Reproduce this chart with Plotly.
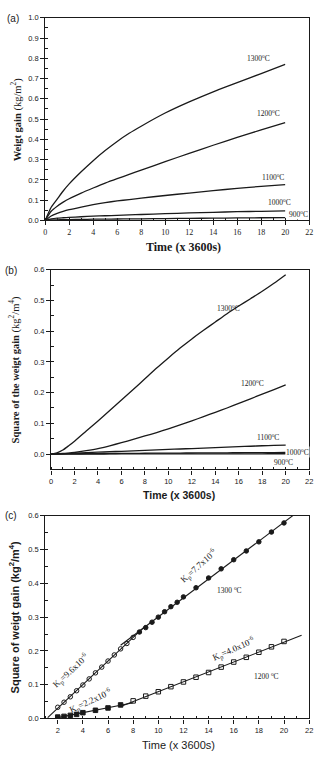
import numpy as np
import plotly.graph_objects as go

W, H = 321, 758

# ---------------- data ----------------
# panel (a): weight gain (kg/m2) vs time (x3600 s)
ta = [0, 0.5, 1, 1.5, 2, 3, 4, 5, 6, 7, 8, 10, 12, 14, 16, 18, 20]
a1300 = [0, 0.065, 0.105, 0.145, 0.18, 0.24, 0.295, 0.345, 0.39, 0.43, 0.465, 0.53, 0.585, 0.635, 0.68, 0.725, 0.77]
a1200 = [0, 0.045, 0.07, 0.09, 0.107, 0.135, 0.16, 0.184, 0.206, 0.227, 0.248, 0.29, 0.331, 0.371, 0.41, 0.447, 0.483]
a1100 = [0, 0.022, 0.035, 0.045, 0.053, 0.066, 0.078, 0.088, 0.096, 0.103, 0.11, 0.123, 0.135, 0.147, 0.158, 0.168, 0.177]
a1000 = [0, 0.007, 0.011, 0.013, 0.015, 0.018, 0.021, 0.023, 0.025, 0.027, 0.029, 0.033, 0.037, 0.04, 0.043, 0.045, 0.047]
a900 = [0, 0.002, 0.003, 0.0035, 0.004, 0.005, 0.006, 0.0065, 0.007, 0.0075, 0.008, 0.009, 0.010, 0.011, 0.012, 0.013, 0.014]

# panel (b): square of weight gain (kg2/m4)
tb = [0, 0.5, 1, 1.5, 2, 3, 4, 5, 6, 7, 8, 9, 10, 11, 12, 13, 14, 15, 16, 17, 18, 19, 20]
b1300 = [0, 0.004, 0.013, 0.027, 0.042, 0.075, 0.108, 0.142, 0.176, 0.21, 0.245, 0.28, 0.313, 0.345,
         0.375, 0.403, 0.43, 0.457, 0.482, 0.506, 0.53, 0.556, 0.584]
b1200 = [0, 0.001, 0.002, 0.003, 0.005, 0.011, 0.018, 0.027, 0.037, 0.048, 0.059, 0.07, 0.082, 0.095,
         0.108, 0.122, 0.136, 0.15, 0.165, 0.18, 0.195, 0.21, 0.225]
b1100 = [0, 0.0005, 0.001, 0.002, 0.003, 0.0045, 0.006, 0.0075, 0.009, 0.0105, 0.012, 0.0135, 0.015,
         0.0165, 0.018, 0.0195, 0.021, 0.0225, 0.024, 0.0255, 0.027, 0.028, 0.029]
b1000 = [0, 0.0002, 0.0004, 0.0006, 0.0008, 0.0011, 0.0014, 0.0017, 0.002, 0.0023, 0.0026, 0.0029,
         0.0031, 0.0033, 0.0035, 0.0037, 0.0039, 0.0041, 0.0043, 0.0045, 0.0047, 0.0049, 0.005]
b900 = [0, 0, 0.0001, 0.0001, 0.0001, 0.0002, 0.0002, 0.0003, 0.0003, 0.0004, 0.0004, 0.0005, 0.0005,
        0.0006, 0.0006, 0.0007, 0.0007, 0.0008, 0.0008, 0.0009, 0.0009, 0.001, 0.001]

# panel (c): measured points and parabolic-rate fits
t1300_open = [2, 2.5, 3, 3.5, 4, 4.5, 5, 5.5, 6, 6.5, 7, 7.5, 8]
y1300_open = [0.033, 0.048, 0.064, 0.082, 0.099, 0.117, 0.135, 0.152, 0.170, 0.188, 0.206, 0.222, 0.240]
t1300_fill = [8.5, 9, 9.5, 10, 10.5, 11, 11.5, 12, 13, 14, 15, 16, 17, 18, 19, 20]
y1300_fill = [0.256, 0.269, 0.285, 0.300, 0.316, 0.331, 0.344, 0.360, 0.387, 0.416, 0.443, 0.470,
              0.496, 0.523, 0.552, 0.579]
t1200_fill = [2, 2.5, 3, 3.5, 4, 5, 6, 7]
y1200_fill = [0.004, 0.006, 0.009, 0.012, 0.017, 0.024, 0.031, 0.040]
t1200_open = [8, 9, 10, 11, 12, 13, 14, 15, 16, 17, 18, 19, 20]
y1200_open = [0.052, 0.066, 0.079, 0.094, 0.108, 0.122, 0.136, 0.152, 0.167, 0.181, 0.196, 0.212, 0.228]
fit_span_9_6 = [1.2, 9.0]
fit_span_7_7 = [7.0, 21.0]
fit_span_2_2 = [1.8, 8.0]
fit_span_4_0 = [7.0, 21.4]
kp_labels = ["K<sub>p</sub>=9.6x10<sup>-6</sup>", "K<sub>p</sub>=7.7x10<sup>-6</sup>",
             "K<sub>p</sub>=2.2x10<sup>-6</sup>", "K<sub>p</sub>=4.0x10<sup>-6</sup>"]

# ---------------- layout helpers ----------------
SERIF = "Liberation Serif, Times New Roman, serif"
SANS = "Liberation Sans, Arial, sans-serif"
INK = "#1a1a1a"


def px_x(p):
    return p / W


def px_y(p):
    return 1 - p / H


fig = go.Figure()

line_style = dict(color=INK, width=1.3, shape="spline", smoothing=0.6)
for ys in [a1300, a1200, a1100, a1000, a900]:
    fig.add_trace(go.Scatter(x=ta, y=ys, mode="lines", line=line_style, xaxis="x", yaxis="y",
                             showlegend=False, hoverinfo="skip"))
for ys in [b1300, b1200, b1100, b1000, b900]:
    fig.add_trace(go.Scatter(x=tb, y=ys, mode="lines", line=line_style, xaxis="x2", yaxis="y2",
                             showlegend=False, hoverinfo="skip"))


def fit_line(ts, ys, span):
    k, b = np.polyfit(ts, ys, 1)
    xs = np.array(span)
    return xs, k * xs + b


for ts, ys, span in [(t1300_open, y1300_open, fit_span_9_6), (t1300_fill, y1300_fill, fit_span_7_7),
                     (t1200_fill, y1200_fill, fit_span_2_2), (t1200_open, y1200_open, fit_span_4_0)]:
    xs, yl = fit_line(ts, ys, span)
    fig.add_trace(go.Scatter(x=xs, y=yl, mode="lines", line=dict(color=INK, width=1.1),
                             xaxis="x3", yaxis="y3", showlegend=False, hoverinfo="skip"))

mk = dict(color=INK, size=4.5, line=dict(color=INK, width=1))
fig.add_trace(go.Scatter(x=t1300_open, y=y1300_open, mode="markers", marker=dict(mk, symbol="circle-open"),
                         xaxis="x3", yaxis="y3", showlegend=False))
fig.add_trace(go.Scatter(x=t1300_fill, y=y1300_fill, mode="markers", marker=dict(mk, symbol="circle"),
                         xaxis="x3", yaxis="y3", showlegend=False))
fig.add_trace(go.Scatter(x=t1200_fill, y=y1200_fill, mode="markers", marker=dict(mk, symbol="square"),
                         xaxis="x3", yaxis="y3", showlegend=False))
fig.add_trace(go.Scatter(x=t1200_open, y=y1200_open, mode="markers", marker=dict(mk, symbol="square-open"),
                         xaxis="x3", yaxis="y3", showlegend=False))


def axis(domain, rng, dtick, mdtick, font, anchor, fmt=None):
    d = dict(domain=domain, range=rng, dtick=dtick, tick0=0, ticks="outside", ticklen=4, tickwidth=1,
             tickcolor=INK, showline=True, linecolor=INK, linewidth=1.2, mirror=True,
             showgrid=False, zeroline=False, tickfont=font, anchor=anchor,
             minor=dict(dtick=mdtick, tick0=0, ticks="inside", ticklen=2.5, tickcolor=INK, showgrid=False))
    if fmt:
        d["tickformat"] = fmt
    return d


tf_sans = dict(family=SANS, size=7.5, color=INK)
tf_serif = dict(family=SERIF, size=8, color=INK)

xa_dom = [px_x(44), px_x(313)]
xb_dom = [px_x(50), px_x(313)]
xc_dom = [px_x(44), px_x(313)]

fig.update_layout(
    width=W, height=H, margin=dict(l=0, r=0, t=0, b=0),
    paper_bgcolor="white", plot_bgcolor="white",
    xaxis=axis(xa_dom, [0, 22], 2, 1, tf_serif, "y"),
    yaxis=axis([px_y(219), px_y(14)], [0, 1.0], 0.1, 0.05, tf_sans, "x", ".1f"),
    xaxis2=axis(xb_dom, [0, 22], 2, 1, tf_sans, "y2"),
    yaxis2=axis([px_y(471), px_y(269)], [-0.05, 0.6], 0.1, 0.05, tf_sans, "x2", ".1f"),
    xaxis3=axis(xc_dom, [1, 22], 2, 1, tf_sans, "y3"),
    yaxis3=axis([px_y(723), px_y(518)], [0, 0.6], 0.1, 0.05, tf_sans, "x3", ".1f"),
)

ann = []


def paper_text(text, x, y, font, angle=0):
    ann.append(dict(text=text, x=px_x(x), y=px_y(y), xref="paper", yref="paper", showarrow=False,
                    font=font, textangle=angle, xanchor="center", yanchor="middle"))


def data_text(text, x, y, ax, font, angle=0, bg=None):
    d = dict(text=text, x=x, y=y, xref=ax[0], yref=ax[1], showarrow=False, font=font,
             textangle=angle, xanchor="center", yanchor="middle")
    if bg:
        d["bgcolor"] = bg
        d["borderpad"] = 0
    ann.append(d)


# panel labels
lab = dict(family=SANS, size=10, color=INK)
paper_text("(a)", 11, 15, lab)
paper_text("(b)", 9, 270, lab)
paper_text("(c)", 9, 518, lab)

# axis titles
paper_text("<b>Time</b> <b>(x 3600s)</b>", 185, 246, dict(family=SERIF, size=12, color=INK))
paper_text("<b>Time (x 3600s)</b>", 180, 497, dict(family=SANS, size=10.5, color=INK))
paper_text("Time (x 3600s)", 180, 750, dict(family=SANS, size=11, color=INK))
paper_text("<b>Weigt gain</b> (kg/m<sup>2</sup>)", 14, 117, dict(family=SERIF, size=10.5, color=INK), -90)
paper_text("<b>Square of the weigt gain</b> (kg<sup>2</sup>/m<sup>4</sup>)", 12, 370,
           dict(family=SERIF, size=10.5, color=INK), -90)
paper_text("<b>Square of weigt gain (kg<sup>2</sup>/m<sup>4</sup>)</b>", 12, 620,
           dict(family=SANS, size=11, color=INK), -90)

# temperature labels
tl = dict(family=SERIF, size=7.5, color=INK)
data_text("1300<sup>o</sup>C", 17.8, 0.80, ("x", "y"), tl)
data_text("1200<sup>o</sup>C", 18.6, 0.53, ("x", "y"), tl)
data_text("1100<sup>o</sup>C", 19.0, 0.215, ("x", "y"), tl)
data_text("1000<sup>o</sup>C", 19.5, 0.093, ("x", "y"), tl)
data_text("900<sup>o</sup>C", 21.1, 0.03, ("x", "y"), tl, bg="white")

data_text("1300<sup>o</sup>C", 15.1, 0.476, ("x2", "y2"), tl)
data_text("1200<sup>o</sup>C", 17.2, 0.231, ("x2", "y2"), tl)
data_text("1100<sup>o</sup>C", 18.5, 0.054, ("x2", "y2"), tl)
data_text("1000<sup>o</sup>C", 21.0, 0.0075, ("x2", "y2"), tl, bg="white")
data_text("900<sup>o</sup>C", 19.8, -0.027, ("x2", "y2"), tl)

data_text("1300 <sup>o</sup>C", 15.65, 0.381, ("x3", "y3"), tl)
data_text("1200 <sup>o</sup>C", 18.64, 0.126, ("x3", "y3"), tl)

kl = dict(family=SERIF, size=9, color=INK)
data_text(kp_labels[0], 3.0, 0.142, ("x3", "y3"), kl, -43)
data_text(kp_labels[1], 13.2, 0.452, ("x3", "y3"), kl, -42)
data_text(kp_labels[2], 4.6, 0.052, ("x3", "y3"), kl, -25)
data_text(kp_labels[3], 16.0, 0.207, ("x3", "y3"), kl, -24)

fig.update_layout(annotations=ann)
fig.write_html("out.html")
